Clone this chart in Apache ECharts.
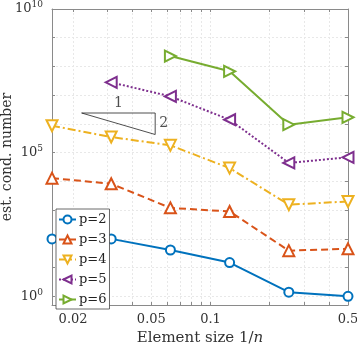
<!DOCTYPE html>
<html>
<head>
  <meta charset="utf-8">
</head>
<body style="margin: 0">
  <div id="container" style="width: 357px; height: 348px"></div>
  <script type="text/javascript" src="https://cdn.jsdelivr.net/npm/echarts@6.0.0/dist/echarts.min.js"></script>
  <script type="text/javascript">
    // element size 1/n
    var hVals = [1/64, 1/32, 1/16, 1/8, 1/4, 1/2];
    var p2 = [100, 100, 41, 15, 1.4, 1.0];
    var p3 = [1.3e4, 8.3e3, 1.2e3, 9.0e2, 39, 45];
    var p4 = [8.7e5, 3.5e5, 1.8e5, 2.9e4, 1.55e3, 2.0e3];
    var p5 = [null, 2.8e7, 9.1e6, 1.4e6, 4.4e4, 6.9e4];
    var p6 = [null, null, 2.3e8, 6.8e7, 9.4e5, 1.7e6];
    var names = ['p=2', 'p=3', 'p=4', 'p=5', 'p=6'];

    var xTicks = [0.02, 0.03, 0.04, 0.05, 0.06, 0.07, 0.08, 0.09, 0.1, 0.2, 0.3, 0.4, 0.5];
    var xLabels = [0.02, 0.05, 0.1, 0.5];
    var yTicks = [1, 1e1, 1e2, 1e3, 1e4, 1e5, 1e6, 1e7, 1e8, 1e9, 1e10];
    var yLabels = [1, 1e5, 1e10];

    // slope triangle (1 : 2)
    var slopeX = [0.0221, 0.0523];
    var slopeY = [2.4e6, 2.4e6 / Math.pow(0.0523 / 0.0221, 2)];

    var font = 'DejaVu Serif';
    var axisCol = '#8a8a8a';

    function pairs(ys) {
      var out = [];
      for (var i = 0; i < hVals.length; i++) {
        if (ys[i] != null) out.push([hVals[i], ys[i]]);
      }
      return out;
    }

    var myChart = echarts.init(document.getElementById('container'), null, { renderer: 'canvas' });

    function xAxisCfg(pos, showLabel) {
      return {
        type: 'log', position: pos, min: 1/64, max: 0.5,
        axisLine: { show: true, lineStyle: { color: axisCol } },
        axisTick: { show: true, inside: true, length: 3, customValues: xTicks, lineStyle: { color: axisCol } },
        axisLabel: {
          show: showLabel, customValues: xLabels, color: '#333', fontFamily: font, fontSize: 13, margin: 8,
          formatter: function (v) { return String(+v.toPrecision(2)); }
        },
        splitLine: { show: pos === 'bottom', lineStyle: { color: '#e8e8e8', type: [2, 2] } }
      };
    }
    function yAxisCfg(pos, showLabel) {
      return {
        type: 'log', position: pos, min: 0.5, max: 1e10,
        axisLine: { show: true, lineStyle: { color: axisCol } },
        axisTick: { show: true, inside: true, length: 3, customValues: yTicks, lineStyle: { color: axisCol } },
        axisLabel: {
          show: showLabel, customValues: yLabels, fontFamily: font, margin: 9,
          formatter: function (v) { return '{b|10}{s|' + Math.round(Math.log10(v)) + '}'; },
          rich: {
            b: { fontFamily: font, fontSize: 13, color: '#333' },
            s: { fontFamily: font, fontSize: 9, color: '#333', verticalAlign: 'bottom', padding: [0, 0, 8, 0] }
          }
        },
        splitLine: { show: pos === 'left', lineStyle: { color: '#e8e8e8', type: [2, 2] } }
      };
    }

    var xb = xAxisCfg('bottom', true);
    xb.name = '{a|Element size 1/}{i|n}';
    xb.nameLocation = 'middle';
    xb.nameGap = 26;
    xb.nameMoveOverlap = false;
    xb.nameTextStyle = { rich: {
      a: { fontFamily: font, fontSize: 15, color: '#333' },
      i: { fontFamily: font, fontStyle: 'italic', fontSize: 15, color: '#333' }
    } };
    var yl = yAxisCfg('left', true);
    yl.name = 'est. cond. number';
    yl.nameLocation = 'middle';
    yl.nameGap = 38;
    yl.nameMoveOverlap = false;
    yl.nameTextStyle = { fontFamily: font, fontSize: 14, color: '#333', padding: [0, 0, 0, 0] };

    var colors = ['#0072BD', '#D95319', '#EDB120', '#7E2F8E', '#77AC30'];
    var data = [p2, p3, p4, p5, p6];
    var symbols = ['emptyCircle', 'emptyTriangle', 'emptyTriangle', 'emptyTriangle', 'emptyTriangle'];
    var rotates = [0, 0, 180, 90, -90];
    var dashes = ['solid', [7, 4], [8, 3, 2, 3], [2, 2], 'solid'];

    var series = names.map(function (nm, i) {
      return {
        name: nm, type: 'line', data: pairs(data[i]),
        symbol: symbols[i], symbolSize: i === 0 ? 9 : 11, symbolRotate: rotates[i],
        itemStyle: { color: colors[i], borderWidth: 2 },
        lineStyle: { color: colors[i], width: 2, type: dashes[i] }
      };
    });

    series.push({
      type: 'line', silent: true, symbol: 'none',
      data: [[slopeX[0], slopeY[0]], [slopeX[1], slopeY[0]], [slopeX[1], slopeY[1]], [slopeX[0], slopeY[0]]],
      lineStyle: { color: '#222', width: 0.8 }, z: 1
    });
    series.push({
      type: 'scatter', silent: true, symbolSize: 0,
      data: [
        { value: [Math.sqrt(slopeX[0] * slopeX[1]), slopeY[0]], label: { position: 'top', formatter: '1', distance: 3 } },
        { value: [slopeX[1], Math.sqrt(slopeY[0] * slopeY[1])], label: { position: 'right', formatter: '2', distance: 4 } }
      ],
      label: { show: true, fontFamily: font, fontSize: 14, color: '#222' }
    });

    var option = {
      animation: false,
      grid: { left: 52, right: 9, top: 9, bottom: 43, outerBoundsMode: 'none' },
      legend: {
        data: names, orient: 'vertical', left: 56, top: 209,
        itemWidth: 17, itemHeight: 10, itemGap: 7,
        padding: [4, 3, 3, 2],
        backgroundColor: '#fff', borderColor: '#444', borderWidth: 0.8, borderRadius: 0,
        textStyle: { fontFamily: font, fontSize: 13, color: '#222', padding: [0, 0, 0, -2] }
      },
      xAxis: [xb, xAxisCfg('top', false)],
      yAxis: [yl, yAxisCfg('right', false)],
      series: series
    };

    myChart.setOption(option);
    window.addEventListener('resize', myChart.resize);
  </script>
</body>
</html>
